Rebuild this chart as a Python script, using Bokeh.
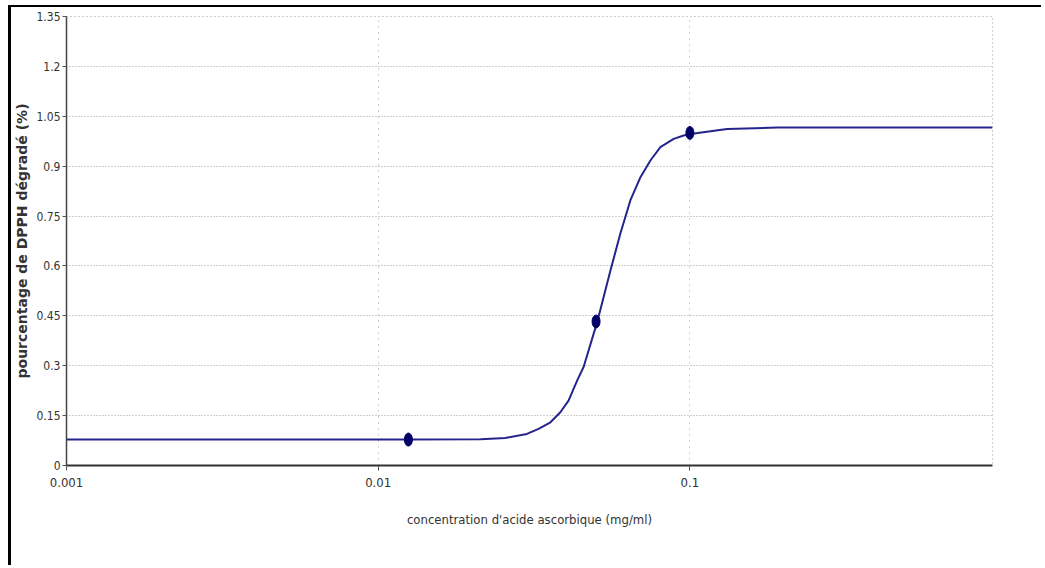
from bokeh.plotting import figure
from bokeh.models import Range1d, FixedTicker, CustomJSTickFormatter
from bokeh.embed import file_html
from bokeh.resources import INLINE

# fitted curve
curve_x = [0.001, 0.0125, 0.0213, 0.0256, 0.0300, 0.0327, 0.0357, 0.0384, 0.0408,
           0.0435, 0.0456, 0.0504, 0.0556, 0.0598, 0.0644, 0.0694, 0.0747, 0.0804,
           0.0887, 0.0955, 0.1004, 0.1316, 0.1905, 0.935]
curve_y = [0.078, 0.078, 0.079, 0.083, 0.095, 0.110, 0.130, 0.160, 0.195,
           0.256, 0.296, 0.431, 0.586, 0.697, 0.797, 0.867, 0.917, 0.957,
           0.982, 0.992, 0.997, 1.012, 1.016, 1.016]

# measured points
pts_x = [0.0125, 0.05, 0.1]
pts_y = [0.078, 0.433, 1.0]

x_ticks = [0.001, 0.01, 0.1]
y_ticks = [0, 0.15, 0.3, 0.45, 0.6, 0.75, 0.9, 1.05, 1.2, 1.35]

TICK_FONT = "'DejaVu Sans Condensed', 'Liberation Sans Narrow', 'Roboto', sans-serif"

p = figure(width=1033, height=560, x_axis_type="log",
           x_range=Range1d(0.001, 0.935), y_range=Range1d(0, 1.35),
           output_backend="svg", toolbar_location=None,
           min_border_left=55, min_border_right=52,
           min_border_top=9, min_border_bottom=102)
p.styles = {"margin-left": "8px", "margin-top": "5px",
            "border-left": "3px solid black", "border-top": "2px solid black"}

p.background_fill_color = "white"
p.border_fill_color = "white"
p.outline_line_color = "#9a9a9a"
p.outline_line_dash = "1 3"
p.outline_line_width = 1

# grids
p.xgrid.ticker = FixedTicker(ticks=x_ticks)
p.ygrid.ticker = FixedTicker(ticks=y_ticks)
p.xgrid.grid_line_color = "#a0a0a0"
p.xgrid.grid_line_dash = "1 5"
p.ygrid.grid_line_color = "#a0a0a0"
p.ygrid.grid_line_dash = "1 2"
p.xgrid.minor_grid_line_color = None

# x axis
xa = p.xaxis[0]
xa.ticker = FixedTicker(ticks=x_ticks, minor_ticks=[])
xa.formatter = CustomJSTickFormatter(code="return String(Number(tick.toPrecision(3)));")
xa.axis_line_color = "#333333"
xa.axis_line_width = 2
xa.major_tick_out = 5
xa.major_tick_in = 0
xa.major_tick_line_color = "#555555"
xa.minor_tick_line_color = None
xa.major_label_text_font = TICK_FONT
xa.major_label_text_font_size = "13px"
xa.major_label_text_color = "#333333"
xa.major_label_standoff = 7
xa.axis_label = "concentration d'acide ascorbique (mg/ml)"
xa.axis_label_text_font = TICK_FONT
xa.axis_label_text_font_size = "13px"
xa.axis_label_text_font_style = "normal"
xa.axis_label_text_color = "#333333"
xa.axis_label_standoff = 22

# y axis
ya = p.yaxis[0]
ya.ticker = FixedTicker(ticks=y_ticks, minor_ticks=[])
ya.formatter = CustomJSTickFormatter(code="return String(Math.round(tick*100)/100);")
ya.axis_line_color = "#444444"
ya.axis_line_width = 1.5
ya.major_tick_out = 4
ya.major_tick_in = 0
ya.major_tick_line_color = "#555555"
ya.minor_tick_line_color = None
ya.major_label_text_font = TICK_FONT
ya.major_label_text_font_size = "12px"
ya.major_label_text_color = "#333333"
ya.major_label_standoff = 2
ya.axis_label = "pourcentage de DPPH dégradé (%)"
ya.axis_label_text_font = "DejaVu Sans"
ya.axis_label_text_font_size = "14px"
ya.axis_label_text_font_style = "bold"
ya.axis_label_text_color = "#333333"
ya.axis_label_standoff = 3

p.line(curve_x, curve_y, line_color="#24248c", line_width=2)
p.ellipse(x=pts_x, y=pts_y, width=8, height=13, width_units="screen",
          height_units="screen", fill_color="#000068", line_color="#000068")

open("out.html", "w").write(file_html(p, INLINE))
